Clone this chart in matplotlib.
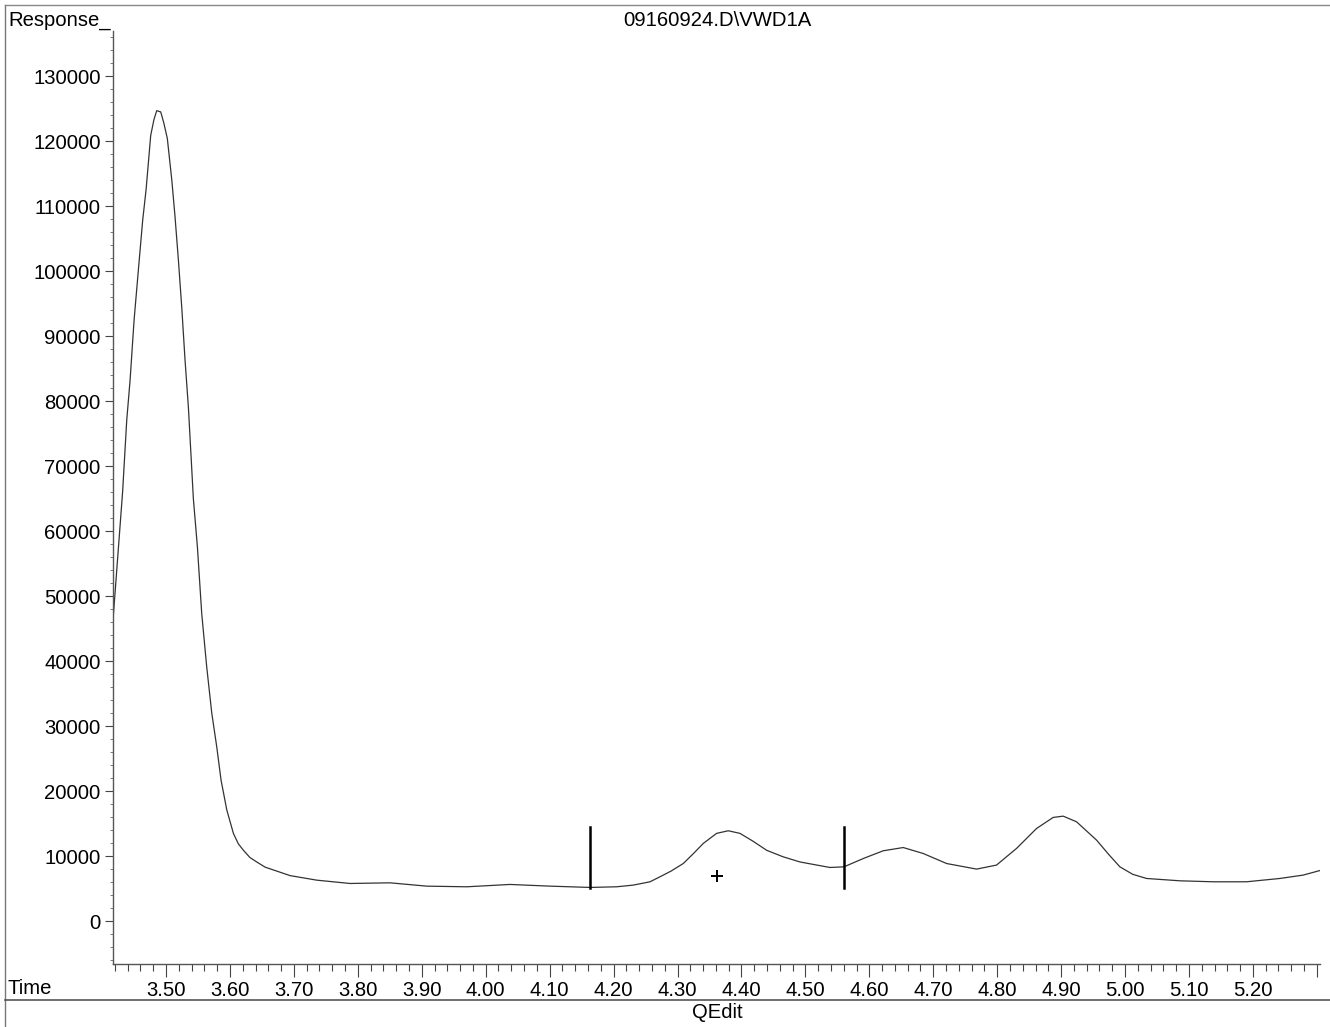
import numpy as np
import matplotlib
matplotlib.use("Agg")
import matplotlib.pyplot as plt
from matplotlib.lines import Line2D
from matplotlib.ticker import MultipleLocator, FormatStrFormatter

plt.rcParams['font.family'] = ['Liberation Sans', 'DejaVu Sans']

# chromatogram trace (time in min, response)
time = [3.417, 3.432, 3.4385, 3.4437, 3.450, 3.4567, 3.4635, 3.4687, 3.476,
        3.481, 3.4854, 3.4917, 3.4965, 3.502, 3.509, 3.514, 3.5193, 3.5245,
        3.5297, 3.5349, 3.540, 3.5427, 3.549, 3.5558, 3.5636, 3.5715, 3.5793,
        3.586, 3.595, 3.6053, 3.613, 3.621, 3.631, 3.6418, 3.655, 3.673,
        3.694, 3.7357, 3.7878, 3.8503, 3.9077, 3.9703, 4.038, 4.1006, 4.1631,
        4.2048, 4.2309, 4.257, 4.2726, 4.290, 4.309, 4.325, 4.3403, 4.3612,
        4.3794, 4.3977, 4.418, 4.4394, 4.465, 4.4916, 4.5385, 4.5604, 4.5906,
        4.6218, 4.6531, 4.6844, 4.721, 4.7678, 4.799, 4.8303, 4.8616, 4.8876,
        4.9033, 4.9242, 4.9555, 4.975, 4.992, 5.012, 5.0337, 5.0859, 5.138,
        5.190, 5.2422, 5.2787, 5.3074]
response = [46300, 66000, 77100, 83200, 92500, 100200, 107900, 112500, 120900,
            123300, 124700, 124500, 122800, 120400, 114000, 108400, 101700, 94500,
            86300, 79100, 69900, 65000, 57600, 47300, 39100, 32000, 26800,
            21700, 17100, 13500, 11900, 10900, 9800, 9100, 8300, 7700,
            7000, 6300, 5790, 5890, 5380, 5280, 5640, 5380, 5180,
            5280, 5540, 6050, 6820, 7700, 8860, 10400, 11950, 13500,
            13900, 13500, 12300, 10900, 9900, 9100, 8250, 8350, 9630,
            10820, 11320, 10400, 8860, 8000, 8620, 11180, 14250, 15950,
            16150, 15280, 12460, 10200, 8350, 7200, 6560, 6200, 6050,
            6050, 6560, 7080, 7850]

# integration event markers
marker_times = [4.1631, 4.5604]
marker_top = 14500
marker_bottom = 5100
plus_time = 4.362
plus_resp = 6900

title = "09160924.D\\VWD1A"
fs = 14.6

W, H = 1330, 1027
fig = plt.figure(figsize=(W / 100, H / 100), dpi=100)
ax = fig.add_axes([113 / W, 1 - 964 / H, (1320 - 113) / W, (964 - 30.7) / H])

ax.plot(time, response, color='#333333', lw=0.9)
for mt in marker_times:
    ax.plot([mt, mt], [marker_bottom, marker_top], color='black', lw=1.8)
ax.plot(plus_time, plus_resp, marker='+', color='black', ms=8, mew=1.4)

ax.set_xlim(3.417, 5.305)
ax.set_ylim(-6600, 137000)

for s in ['top', 'right']:
    ax.spines[s].set_visible(False)
for s in ['left', 'bottom']:
    ax.spines[s].set_color('#555555')
    ax.spines[s].set_linewidth(1.0)

ax.xaxis.set_minor_locator(MultipleLocator(0.02))
ax.yaxis.set_major_locator(MultipleLocator(10000))
ax.yaxis.set_minor_locator(MultipleLocator(2000))
ax.yaxis.set_major_formatter(FormatStrFormatter('%d'))

ax.tick_params(axis='x', which='major', length=9, width=0.8, color='#444444',
               labelsize=fs, pad=3)
ax.tick_params(axis='x', which='minor', length=5, width=0.8, color='#444444')
ax.tick_params(axis='y', which='major', length=6, width=0.8, color='#444444',
               labelsize=fs, pad=3)
ax.tick_params(axis='y', which='minor', length=2, width=0.6, color='#666666')
# major ticks 3.50 .. 5.30, the last one has no label
xt = [3.5 + 0.1 * i for i in range(19)]
ax.set_xticks(xt)
ax.set_xticklabels(['%.2f' % v for v in xt[:-1]] + [''])

# outer frame of the printout
fig.add_artist(Line2D([5 / W, 5 / W], [0, 1 - 5 / H], color='#777777', lw=1.0))
fig.add_artist(Line2D([5 / W, 1], [1 - 5 / H, 1 - 5 / H], color='#888888', lw=1.0))
fig.add_artist(Line2D([5 / W, 1], [1 - 1000 / H, 1 - 1000 / H], color='#555555', lw=1.2))

fig.text(8 / W, 1 - 21 / H, "Response_", fontsize=fs, ha='left', va='center')
fig.text(717 / W, 1 - 20 / H, title, fontsize=fs, ha='center', va='center')
fig.text(8 / W, 1 - 989 / H, "Time", fontsize=fs, ha='left', va='center')
fig.text(717 / W, 1 - 1013 / H, "QEdit", fontsize=fs, ha='center', va='center')

fig.savefig("out.png", dpi=100)
